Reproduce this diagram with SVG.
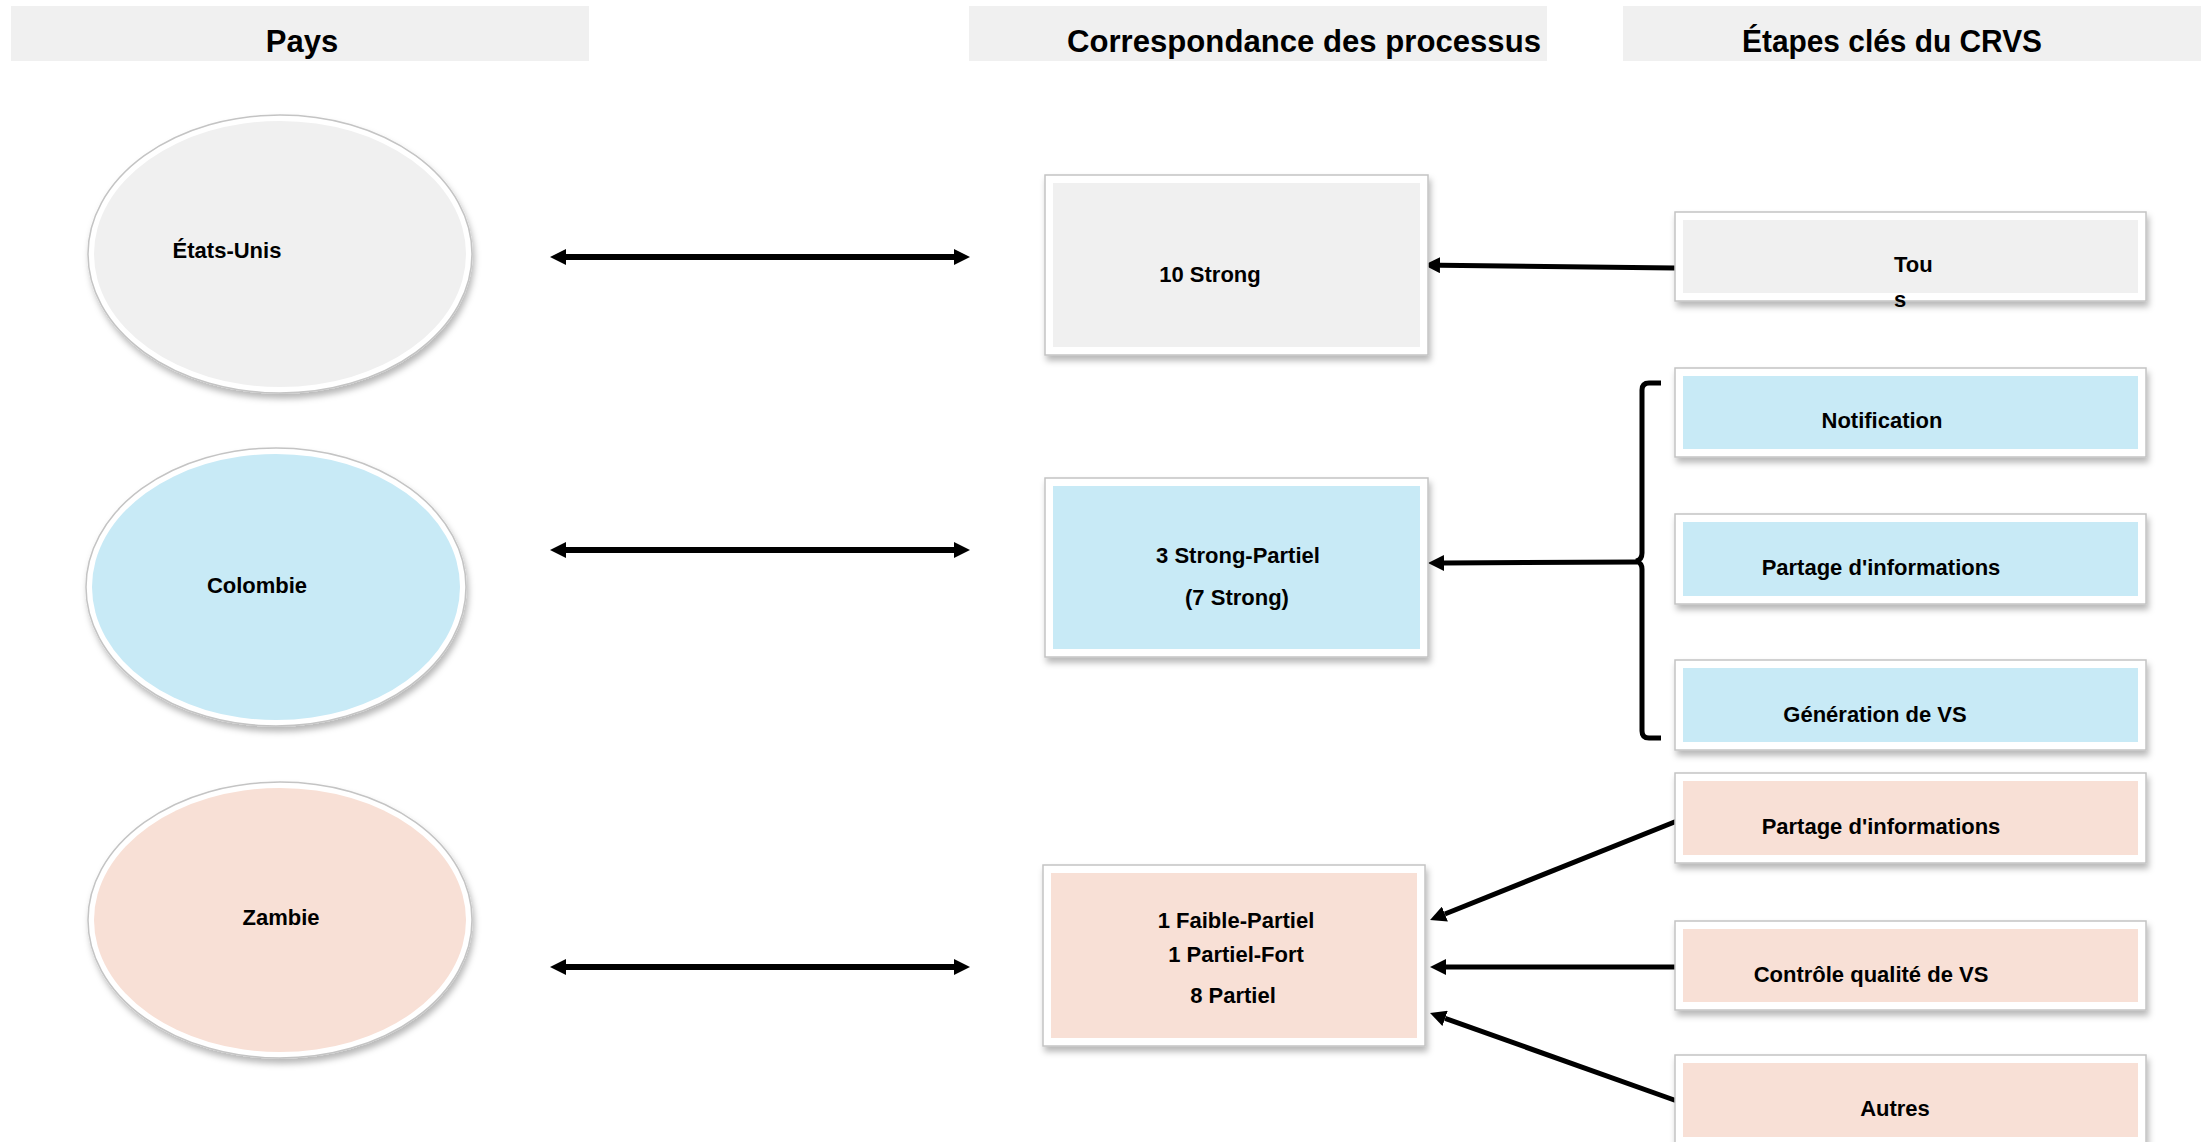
<svg xmlns="http://www.w3.org/2000/svg" width="2211" height="1142" viewBox="0 0 2211 1142">
  <defs>
    <filter id="shadow" x="-10%" y="-10%" width="125%" height="130%">
      <feDropShadow dx="2" dy="5" stdDeviation="3" flood-color="#000" flood-opacity="0.28"/>
    </filter>
    <marker id="head" viewBox="0 0 16 16" refX="0" refY="8" markerWidth="16" markerHeight="16" markerUnits="userSpaceOnUse" orient="auto-start-reverse">
      <path d="M0,0 L16,8 L0,16 Z" fill="#000"/>
    </marker>
  </defs>
  <style>
    .hdr { fill: #f0f0f0; }
    .hdrtxt { font-family: "Liberation Sans", Arial, sans-serif; font-weight: bold; font-size: 31px; fill: #000; }
    .txt { font-family: "Liberation Sans", Arial, sans-serif; font-weight: bold; font-size: 22px; fill: #000; }
    .outer { fill: #ffffff; stroke: #c4c4c4; stroke-width: 1.5; filter: url(#shadow); }
    .gray { fill: #f0f0f0; }
    .blue { fill: #c8eaf6; }
    .pink { fill: #f8e0d6; }
    .conn { fill: none; stroke: #000; stroke-width: 5; }
    .dbl { fill: none; stroke: #000; stroke-width: 6; }
  </style>
  <rect width="2211" height="1142" fill="#ffffff"/>

  <g id="headers">
    <g id="hdr-pays">
      <rect class="hdr" x="11" y="6" width="578" height="55"/>
      <text class="hdrtxt" x="302" y="52" text-anchor="middle">Pays</text>
    </g>
    <g id="hdr-correspondance">
      <rect class="hdr" x="969" y="6" width="578" height="55"/>
      <text class="hdrtxt" x="1067" y="52" textLength="474" lengthAdjust="spacingAndGlyphs">Correspondance des processus</text>
    </g>
    <g id="hdr-etapes">
      <rect class="hdr" x="1623" y="6" width="578" height="55"/>
      <text class="hdrtxt" x="1742" y="52" textLength="300" lengthAdjust="spacingAndGlyphs">Étapes clés du CRVS</text>
    </g>
  </g>

  <g id="connectors">
    <line class="dbl" x1="566" y1="257" x2="954" y2="257" marker-start="url(#head)" marker-end="url(#head)"/>
    <line class="dbl" x1="566" y1="550" x2="954" y2="550" marker-start="url(#head)" marker-end="url(#head)"/>
    <line class="dbl" x1="566" y1="967" x2="954" y2="967" marker-start="url(#head)" marker-end="url(#head)"/>
    <line class="conn" x1="1675" y1="268" x2="1440" y2="265.2" marker-end="url(#head)"/>
    <path class="conn" d="M1661,383 L1649,383 Q1642,383 1642,390 L1642,553 Q1642,560 1636,561 Q1642,563 1642,569 L1642,731 Q1642,738 1649,738 L1661,738"/>
    <line class="conn" x1="1637" y1="562" x2="1444" y2="563" marker-end="url(#head)"/>
    <line class="conn" x1="1677" y1="821" x2="1444.9" y2="914" marker-end="url(#head)"/>
    <line class="conn" x1="1678" y1="967" x2="1446" y2="967" marker-end="url(#head)"/>
    <line class="conn" x1="1677" y1="1101" x2="1445.1" y2="1018.4" marker-end="url(#head)"/>
  </g>

  <g id="etats-unis">
    <ellipse class="outer" cx="280" cy="254" rx="192" ry="139"/>
    <ellipse class="gray" cx="280" cy="254" rx="186" ry="133"/>
    <text class="txt" x="227" y="258" text-anchor="middle">États-Unis</text>
  </g>
  <g id="colombie">
    <ellipse class="outer" cx="276" cy="587" rx="190" ry="139"/>
    <ellipse class="blue" cx="276" cy="587" rx="184" ry="133"/>
    <text class="txt" x="257" y="593" text-anchor="middle">Colombie</text>
  </g>
  <g id="zambie">
    <ellipse class="outer" cx="280" cy="920" rx="192" ry="138"/>
    <ellipse class="pink" cx="280" cy="920" rx="186" ry="132"/>
    <text class="txt" x="281" y="925" text-anchor="middle">Zambie</text>
  </g>

  <g id="box-10-strong">
    <rect class="outer" x="1045" y="175" width="383" height="180"/>
    <rect class="gray" x="1053" y="183" width="367" height="164"/>
    <text class="txt" x="1210" y="282" text-anchor="middle">10 Strong</text>
  </g>
  <g id="box-strong-partiel">
    <rect class="outer" x="1045" y="478" width="383" height="179"/>
    <rect class="blue" x="1053" y="486" width="367" height="163"/>
    <text class="txt" x="1238" y="563" text-anchor="middle">3 Strong-Partiel</text>
    <text class="txt" x="1237" y="605" text-anchor="middle">(7 Strong)</text>
  </g>
  <g id="box-partiel">
    <rect class="outer" x="1043" y="865" width="382" height="181"/>
    <rect class="pink" x="1051" y="873" width="366" height="165"/>
    <text class="txt" x="1236" y="928" text-anchor="middle">1 Faible-Partiel</text>
    <text class="txt" x="1236" y="962" text-anchor="middle">1 Partiel-Fort</text>
    <text class="txt" x="1233" y="1003" text-anchor="middle">8 Partiel</text>
  </g>

  <g id="etape-tous">
    <rect class="outer" x="1675" y="212" width="471" height="89"/>
    <rect class="gray" x="1683" y="220" width="455" height="73"/>
    <text class="txt" x="1894" y="272">Tou</text>
    <text class="txt" x="1894" y="307">s</text>
  </g>
  <g id="etape-notification">
    <rect class="outer" x="1675" y="368" width="471" height="89"/>
    <rect class="blue" x="1683" y="376" width="455" height="73"/>
    <text class="txt" x="1882" y="428" text-anchor="middle">Notification</text>
  </g>
  <g id="etape-partage-co">
    <rect class="outer" x="1675" y="514" width="471" height="90"/>
    <rect class="blue" x="1683" y="522" width="455" height="74"/>
    <text class="txt" x="1881" y="575" text-anchor="middle">Partage d'informations</text>
  </g>
  <g id="etape-generation">
    <rect class="outer" x="1675" y="660" width="471" height="90"/>
    <rect class="blue" x="1683" y="668" width="455" height="74"/>
    <text class="txt" x="1875" y="722" text-anchor="middle">Génération de VS</text>
  </g>
  <g id="etape-partage-za">
    <rect class="outer" x="1675" y="773" width="471" height="90"/>
    <rect class="pink" x="1683" y="781" width="455" height="74"/>
    <text class="txt" x="1881" y="834" text-anchor="middle">Partage d'informations</text>
  </g>
  <g id="etape-controle">
    <rect class="outer" x="1675" y="921" width="471" height="89"/>
    <rect class="pink" x="1683" y="929" width="455" height="73"/>
    <text class="txt" x="1871" y="982" text-anchor="middle">Contrôle qualité de VS</text>
  </g>
  <g id="etape-autres">
    <rect class="outer" x="1675" y="1055" width="471" height="90"/>
    <rect class="pink" x="1683" y="1063" width="455" height="74"/>
    <text class="txt" x="1895" y="1116" text-anchor="middle">Autres</text>
  </g>
</svg>
